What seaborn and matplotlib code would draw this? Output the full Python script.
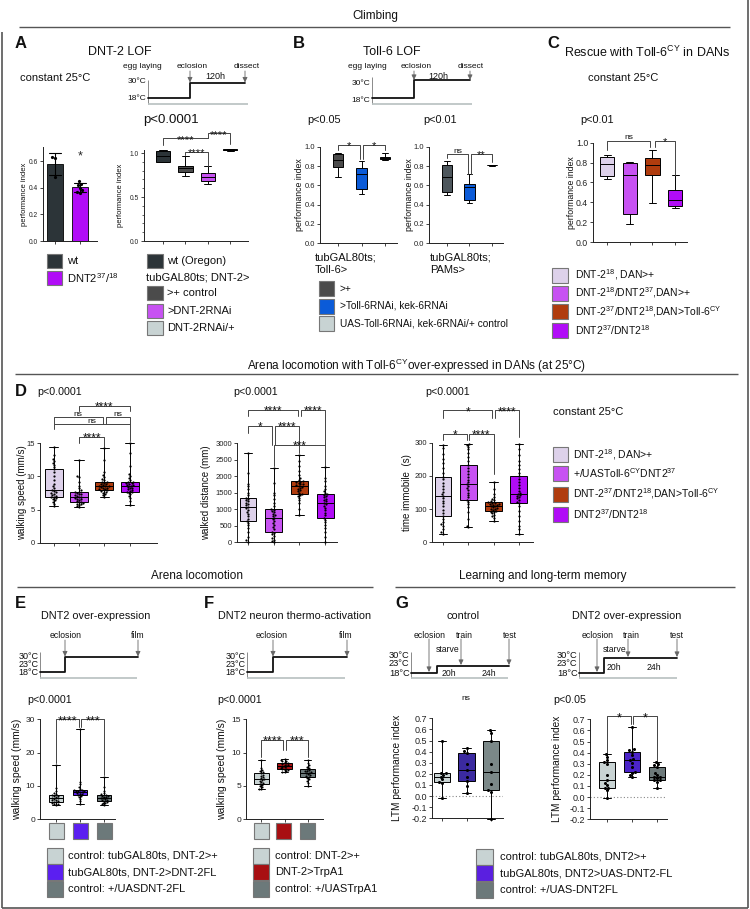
import numpy as np
import pandas as pd
import matplotlib
matplotlib.use("Agg")
import matplotlib.pyplot as plt
from matplotlib.patches import Rectangle
from matplotlib.ticker import MultipleLocator
import seaborn as sns

# ======================= DATA =======================
# A - DNT-2 LOF (bar chart, constant 25C)
A_bar_labels = ["wt", "DNT2 37/18"]
A_bar_wt = [0.63, 0.62, 0.48]
A_bar_dnt2 = [0.45, 0.43, 0.42, 0.40, 0.38, 0.36, 0.37]
# A - DNT-2 LOF (box chart)
A_box_labels = ["wt (Oregon)", ">+ control", ">DNT-2RNAi", "DNT-2RNAi/+"]
A_box_wt = [0.90, 0.90, 0.97, 1.02, 1.04]
A_box_ctrl = [0.74, 0.79, 0.825, 0.855, 0.965]
A_box_rnai = [0.65, 0.685, 0.73, 0.77, 0.85]
A_box_uas = [1.025, 1.03, 1.04, 1.045, 1.05]
# B - Toll-6 LOF
B_labels = [">+", ">Toll-6RNAi, kek-6RNAi", "UAS-Toll-6RNAi, kek-6RNAi/+ control"]
B_toll_ctrl = [0.69, 0.79, 0.86, 0.92, 0.93]
B_toll_rnai = [0.51, 0.56, 0.715, 0.775, 0.855]
B_toll_uas = [0.865, 0.875, 0.885, 0.895, 0.935]
B_pam_ctrl = [0.50, 0.535, 0.69, 0.81, 0.85]
B_pam_rnai = [0.415, 0.45, 0.585, 0.61, 0.715]
B_pam_uas = [0.805, 0.807, 0.81, 0.813, 0.815]
# C - Rescue with Toll-6CY in DANs
C_labels = ["DNT-2 18, DAN>+", "DNT-2 18/DNT2 37,DAN>+", "DNT-2 37/DNT2 18,DAN>Toll-6CY", "DNT2 37/DNT2 18"]
C_g1 = [0.63, 0.668, 0.79, 0.853, 0.876]
C_g2 = [0.18, 0.28, 0.67, 0.80, 0.81]
C_g3 = [0.39, 0.675, 0.78, 0.85, 0.93]
C_g4 = [0.345, 0.365, 0.42, 0.52, 0.67]
# D - Arena locomotion with Toll-6CY in DANs
D_labels = ["DNT-2 18, DAN>+", "+/UASToll-6CY DNT2 37", "DNT-2 37/DNT2 18,DAN>Toll-6CY", "DNT2 37/DNT2 18"]
D_speed_1 = [5.5, 5.9, 6.2, 6.4, 6.6, 6.7, 6.85, 6.95, 7.1, 7.2, 7.35, 7.5, 7.6, 7.8, 7.95, 8.2, 8.5, 8.9, 9.4, 10.0, 10.6, 11.05, 11.4, 11.8, 12.1, 12.4, 12.7, 13.2, 14.5]
D_speed_2 = [5.35, 5.5, 5.7, 5.8, 5.9, 6.0, 6.1, 6.2, 6.3, 6.45, 6.55, 6.65, 6.75, 6.85, 6.95, 7.05, 7.15, 7.3, 7.4, 7.5, 7.6, 7.7, 7.9, 8.2, 8.6, 9.2, 9.9, 10.1, 12.5]
D_speed_3 = [6.95, 7.2, 7.4, 7.55, 7.7, 7.8, 7.9, 7.95, 8.05, 8.15, 8.25, 8.3, 8.4, 8.5, 8.55, 8.6, 8.7, 8.8, 8.9, 9.0, 9.1, 9.2, 9.4, 9.6, 9.9, 10.2, 10.6, 12.5, 14.3]
D_speed_4 = [5.7, 6.3, 6.8, 7.1, 7.3, 7.5, 7.6, 7.7, 7.85, 7.95, 8.05, 8.2, 8.3, 8.45, 8.55, 8.65, 8.75, 8.85, 8.95, 9.05, 9.15, 9.2, 9.5, 9.8, 10.1, 10.4, 11.5, 13.5, 15.0]
D_dist_1 = [20, 60, 150, 300, 430, 520, 590, 645, 720, 800, 870, 930, 990, 1040, 1080, 1120, 1160, 1200, 1240, 1280, 1320, 1350, 1420, 1500, 1600, 1700, 1780, 2100, 2700]
D_dist_2 = [0, 30, 80, 130, 190, 240, 280, 320, 390, 450, 520, 580, 640, 700, 745, 790, 830, 870, 920, 960, 990, 1010, 1100, 1200, 1320, 1420, 1500, 1800, 2260]
D_dist_3 = [825, 1000, 1180, 1280, 1350, 1400, 1430, 1455, 1500, 1550, 1590, 1630, 1660, 1690, 1715, 1740, 1760, 1780, 1800, 1820, 1840, 1860, 1900, 1960, 2050, 2150, 2300, 2450, 2645]
D_dist_4 = [0, 150, 300, 420, 530, 620, 690, 745, 820, 900, 970, 1040, 1100, 1150, 1200, 1240, 1280, 1320, 1360, 1400, 1430, 1455, 1500, 1560, 1620, 1700, 1850, 1950, 2270]
D_immo_1 = [25, 30, 40, 50, 55, 62, 70, 79, 88, 98, 108, 118, 125, 132, 139, 145, 152, 160, 170, 180, 190, 197, 210, 225, 240, 250, 265, 285, 292]
D_immo_2 = [45, 50, 70, 90, 105, 115, 122, 127, 135, 142, 150, 157, 163, 170, 175, 181, 188, 196, 205, 215, 224, 232, 245, 258, 270, 280, 288, 294, 297]
D_immo_3 = [65, 72, 78, 83, 87, 90, 92, 94, 96, 99, 101, 103, 105, 108, 110, 112, 113, 115, 116, 118, 119, 120, 123, 127, 131, 136, 145, 160, 182]
D_immo_4 = [25, 40, 50, 65, 80, 95, 108, 117, 122, 127, 132, 136, 139, 142, 145, 150, 156, 163, 172, 182, 192, 200, 210, 220, 232, 245, 262, 280, 297]
# E - DNT2 over-expression, walking speed
E_labels = ["control: tubGAL80ts, DNT-2>+", "tubGAL80ts, DNT-2>DNT-2FL", "control: +/UASDNT-2FL"]
E_1 = [4.3, 4.5, 4.7, 4.9, 5.1, 5.3, 5.5, 5.7, 5.9, 6.1, 6.3, 6.5, 6.7, 6.9, 7.1, 7.3, 7.6, 8.0, 8.6, 9.5, 16.3]
E_2 = [4.5, 5.5, 6.2, 6.7, 7.0, 7.3, 7.5, 7.7, 7.9, 8.1, 8.3, 8.4, 8.5, 8.6, 8.7, 8.8, 9.2, 9.8, 10.5, 11.3, 27.1]
E_3 = [4.3, 4.5, 4.8, 5.0, 5.3, 5.5, 5.7, 5.9, 6.1, 6.3, 6.5, 6.6, 6.8, 6.9, 7.1, 7.3, 7.5, 7.8, 8.5, 9.7, 12.8]
# F - DNT2 neuron thermo-activation
F_labels = ["control: DNT-2>+", "DNT-2>TrpA1", "control: +/UASTrpA1"]
F_1 = [4.5, 4.6, 4.8, 5.0, 5.2, 5.3, 5.45, 5.6, 5.75, 5.9, 6.0, 6.15, 6.3, 6.5, 6.7, 6.9, 7.05, 7.2, 7.4, 7.7, 8.9]
F_2 = [7.05, 7.15, 7.25, 7.35, 7.45, 7.5, 7.6, 7.7, 7.8, 7.9, 8.0, 8.1, 8.2, 8.3, 8.4, 8.5, 8.6, 8.7, 8.8, 8.9, 9.05]
F_3 = [5.0, 5.5, 5.8, 6.0, 6.2, 6.4, 6.5, 6.6, 6.75, 6.9, 7.0, 7.1, 7.2, 7.3, 7.45, 7.6, 7.75, 7.9, 8.1, 8.4, 8.9]
# G - LTM
G_labels = ["control: tubGAL80ts, DNT2>+", "tubGAL80ts, DNT2>UAS-DNT2-FL", "control: +/UAS-DNT2FL"]
G_ctrl_1 = [-0.015, 0.12, 0.125, 0.15, 0.175, 0.19, 0.21, 0.21, 0.495]
G_ctrl_2 = [0.03, 0.09, 0.138, 0.17, 0.235, 0.29, 0.39, 0.41, 0.435]
G_ctrl_3 = [-0.207, 0.04, 0.054, 0.11, 0.213, 0.29, 0.495, 0.57, 0.595]
G_oe_1 = [-0.005, 0.06, 0.08, 0.085, 0.11, 0.13, 0.15, 0.2, 0.3, 0.315, 0.33, 0.36, 0.385]
G_oe_2 = [0.18, 0.2, 0.22, 0.225, 0.27, 0.31, 0.33, 0.34, 0.38, 0.41, 0.42, 0.43, 0.635]
G_oe_3 = [0.085, 0.14, 0.15, 0.155, 0.17, 0.18, 0.185, 0.2, 0.22, 0.275, 0.29, 0.3, 0.315]

# colours
C_DARK = "#2c3438"; C_GRAY = "#4b4b4b"; C_PINK = "#c752f2"; C_LIGHT = "#c8d3d3"
C_BLUE = "#0b5bd8"; C_LAV = "#ddd1ea"; C_RUST = "#b03c0e"; C_VIOL = "#b10cf7"
C_EVIO = "#5b1ff0"; C_TEAL = "#6c797a"; C_RED = "#a80f12"
C_G1IND = "#3b2aa0"; C_G2IND = "#4b24c9"; C_GLEG = "#5a1fe0"; C_G1GR = "#7b8888"

# ======================= STYLE =======================
sns.set_theme(style="ticks")
plt.rcParams["font.family"] = ["Liberation Sans", "DejaVu Sans"]
plt.rcParams["mathtext.fontset"] = "custom"
plt.rcParams["mathtext.rm"] = "Liberation Sans"
plt.rcParams["mathtext.it"] = "Liberation Sans:italic"
plt.rcParams["mathtext.bf"] = "Liberation Sans:bold"
plt.rcParams["axes.unicode_minus"] = False
plt.rcParams["axes.linewidth"] = 0.7

W, H = 750, 909
fig = plt.figure(figsize=(7.5, 9.09), dpi=100)
fig.patch.set_facecolor("white")
ov = fig.add_axes([0, 0, 1, 1])
ov.set_xlim(0, W); ov.set_ylim(H, 0); ov.axis("off")


def pax(x0, x1, ytop, ybot):
    ax = fig.add_axes([x0 / W, 1 - ybot / H, (x1 - x0) / W, (ybot - ytop) / H])
    ax.patch.set_alpha(0)
    return ax


def T(x, y, s, fs, ha="left", va="center", **kw):
    ov.text(x, y, s, fontsize=fs, ha=ha, va=va, color="#111", **kw)


def L(xs, ys, c="#333", lw=0.8, **kw):
    ov.plot(xs, ys, color=c, lw=lw, solid_capstyle="butt", **kw)


def make_df(labels, series):
    g, v = [], []
    for lab, s in zip(labels, series):
        g += [lab] * len(s)
        v += list(s)
    return pd.DataFrame({"group": g, "value": v})


def style_ax(ax, n, xlim, ylim, yticks, ytl, fs):
    ax.set_xlim(*xlim); ax.set_ylim(*ylim)
    ax.set_yticks(yticks); ax.set_yticklabels(ytl)
    ax.set_xticks(range(n)); ax.set_xticklabels([])
    ax.set_xlabel(""); ax.set_ylabel("")
    ax.spines["top"].set_visible(False); ax.spines["right"].set_visible(False)
    for s in ["left", "bottom"]:
        ax.spines[s].set_linewidth(0.7); ax.spines[s].set_color("#222")
    ax.tick_params(axis="both", labelsize=fs, length=2.5, width=0.6, pad=1,
                   colors="#222")
    ax.grid(False)
    for a in list(ax.patches) + list(ax.lines) + list(ax.collections):
        a.set_clip_on(False)


def box_panel(rect, labels, series, colors, xlim, ylim, yticks, ytl, width, fs,
              points=False, psize=1.6):
    ax = pax(*rect)
    df = make_df(labels, series)
    sns.boxplot(data=df, x="group", y="value", hue="group", order=labels,
                hue_order=labels, palette=colors, width=width, whis=(0, 100),
                saturation=1, linecolor="black", linewidth=0.7, fliersize=0,
                legend=False, ax=ax)
    if points:
        sns.swarmplot(data=df, x="group", y="value", order=labels,
                      color="black", size=psize, ax=ax, warn_thresh=1)
    style_ax(ax, len(labels), xlim, ylim, yticks, ytl, fs)
    return ax


def bracket(ax, x1, x2, y, d1, d2, txt, fs=8.5, c="#444"):
    ax.plot([x1, x1, x2, x2], [d1, y, y, d2], color=c, lw=0.7, clip_on=False)
    off = -2.7 * fs / 7 if "*" in txt else 1.0
    ax.annotate(txt, xy=((x1 + x2) / 2, y), xytext=(0, off),
                textcoords="offset points", ha="center", va="baseline",
                fontsize=fs if "*" in txt else 6, color="#111",
                annotation_clip=False)


def swatch(x, y, w, h, col):
    ov.add_patch(Rectangle((x, y), w, h, facecolor=col, edgecolor="#777", lw=0.8))


def arrow(x, y0, y1):
    ov.annotate("", xy=(x, y1), xytext=(x, y0),
                arrowprops=dict(arrowstyle="-|>,head_length=0.25,head_width=0.12",
                                color="#666", lw=0.6, shrinkA=0, shrinkB=0))


def timeline(axx, ytop, ybase, base_end, step, temps, tfs=6):
    L([axx, axx], [ytop, ybase], c="#777", lw=0.6)
    L([axx, base_end], [ybase, ybase], c="#b7c0c0", lw=1.2)
    ov.plot([p[0] for p in step], [p[1] for p in step], color="#111", lw=1.3)
    for s, y in temps:
        T(axx - 1.5, y, s, tfs, ha="right")


# ======================= FRAME & HEADERS =======================
L([2, 2], [32, 907.5], c="#555", lw=1.2)
L([2, 748], [907.5, 907.5], c="#555", lw=1.2)
L([748, 748], [0, 907.5], c="#555", lw=1.2)

T(375, 16, "Climbing", 8.5, ha="center")
L([19, 730], [26.7, 26.7], c="#555", lw=1.0)
T(417, 366, r"Arena locomotion with Toll-6$^{\mathrm{CY}}$over-expressed in DANs (at 25°C)",
  8.5, ha="center")
L([15, 738], [374, 374], c="#555", lw=1.0)
T(197, 575.7, "Arena locomotion", 8.5, ha="center")
L([17, 373], [586.7, 586.7], c="#555", lw=1.0)
T(543, 575.7, "Learning and long-term memory", 8.5, ha="center")
L([395, 735], [586.7, 586.7], c="#555", lw=1.0)

for lab, x, y in [("A", 15, 44), ("B", 293, 44), ("C", 547, 44), ("D", 15, 392),
                  ("E", 15, 604), ("F", 204, 604), ("G", 395, 604)]:
    T(x, y, lab, 12, weight="bold")

# ======================= PANEL A =======================
T(120, 52, "DNT-2 LOF", 9, ha="center")
T(20, 78, "constant 25°C", 8)
timeline(148, 80, 104.3, 248, [(148, 98.3), (190, 98.3), (190, 82.7), (245, 82.7)],
         [("30°C", 81.7), ("18°C", 98.3)])
for s, x in [("egg laying", 142), ("eclosion", 192), ("dissect", 247)]:
    T(x, 66.7, s, 6, ha="center")
T(215, 76.7, "120h", 6.5, ha="center")
arrow(190, 71, 82.5); arrow(245, 71, 82.5)
T(143, 120, "p<0.0001", 9.5)

# bar chart
axA1 = pax(43, 97, 147, 241)
dfA = make_df(A_bar_labels, [A_bar_wt, A_bar_dnt2])
sns.barplot(data=dfA, x="group", y="value", hue="group", order=A_bar_labels,
            hue_order=A_bar_labels, palette=[C_DARK, C_VIOL], errorbar="sd",
            capsize=0.45, err_kws={"color": "black", "linewidth": 0.8},
            edgecolor="black", linewidth=0.6, width=0.64, saturation=1,
            legend=False, ax=axA1)
sns.swarmplot(data=dfA, x="group", y="value", order=A_bar_labels, color="black",
              size=2.3, ax=axA1, warn_thresh=1)
style_ax(axA1, 2, (-0.48, 1.68), (0, 0.705), [0, 0.2, 0.4, 0.6],
         ["0.0", "0.2", "0.4", "0.6"], 4.8)
axA1.annotate("*", xy=(1, 0.61), xytext=(0, 0), textcoords="offset points",
              ha="center", va="baseline", fontsize=9)
T(24, 194, "performance index", 5.5, ha="center", rotation=90)

# box chart
axA2 = box_panel((144, 248, 150, 241), A_box_labels,
                 [A_box_wt, A_box_ctrl, A_box_rnai, A_box_uas],
                 [C_DARK, C_GRAY, C_PINK, C_LIGHT], (-0.85, 3.8), (0, 1.035),
                 [0, 0.5, 1.0], ["0.0", "0.5", "1.0"], 0.64, 4.8)
axA2.yaxis.set_minor_locator(MultipleLocator(0.1))
axA2.tick_params(axis="y", which="minor", length=1.5, width=0.5)
bracket(axA2, 2, 3, 1.224, 1.167, 1.10, "****", fs=8)
bracket(axA2, 0, 2, 1.167, 1.09, 1.167, "****", fs=8)
bracket(axA2, 1, 2, 1.015, 0.98, 0.85, "****", fs=8)
T(121, 195, "performance index", 5.5, ha="center", rotation=90)

# legends A
swatch(47, 254, 15, 14, C_DARK); T(67, 261, "wt", 8)
swatch(47, 271, 15, 14, C_VIOL); T(67, 278, r"DNT2$^{37}$/$^{18}$", 8)
swatch(147, 254, 16, 14, C_DARK); T(167, 261, "wt (Oregon)", 8)
T(146, 278, "tubGAL80ts; DNT-2>", 8)
for i, (lab, col) in enumerate(zip(A_box_labels[1:], [C_GRAY, C_PINK, C_LIGHT])):
    swatch(147, 286 + 17.5 * i, 16, 14, col)
    T(167, 293 + 17.5 * i, lab, 8)

# ======================= PANEL B =======================
T(392, 52, "Toll-6 LOF", 9, ha="center")
timeline(372, 77, 104, 472, [(372, 98), (414, 98), (414, 80), (470, 80)],
         [("30°C", 83.3), ("18°C", 100.5)])
for s, x in [("egg laying", 367), ("eclosion", 416), ("dissect", 471)]:
    T(x, 66, s, 6, ha="center")
T(438.5, 76.5, "120h", 6.5, ha="center")
arrow(414, 71, 80); arrow(470, 71, 80)
T(307, 120, "p<0.05", 7.8)
T(423, 120, "p<0.01", 7.8)
bt = [0, 0.2, 0.4, 0.6, 0.8, 1.0]
btl = ["0.0", "0.2", "0.4", "0.6", "0.8", "1.0"]
axB1 = box_panel((320, 397, 146.7, 243.3), B_labels,
                 [B_toll_ctrl, B_toll_rnai, B_toll_uas], [C_GRAY, C_BLUE, C_LIGHT],
                 (-0.77, 2.51), (0, 1.0), bt, btl, 0.46, 5.5)
bracket(axB1, 0, 0.95, 1.017, 0.97, 0.87, "*", fs=8)
bracket(axB1, 1.05, 2, 1.017, 0.87, 0.965, "*", fs=8)
axB2 = box_panel((429, 503, 146.7, 243.3), B_labels,
                 [B_pam_ctrl, B_pam_rnai, B_pam_uas], ["#4d565c", C_BLUE, C_LIGHT],
                 (-0.8, 2.49), (0, 1.0), bt, btl, 0.46, 5.5)
bracket(axB2, 0, 0.95, 0.923, 0.88, 0.72, "ns", fs=8)
bracket(axB2, 1.05, 2, 0.923, 0.72, 0.845, "**", fs=8)
T(299, 195, "performance index", 6.3, ha="center", rotation=90)
T(409, 195, "performance index", 6.3, ha="center", rotation=90)
T(315, 257, "tubGAL80ts;", 8); T(315, 270, "Toll-6>", 8)
T(430, 257, "tubGAL80ts;", 8); T(430, 270, "PAMs>", 8)
for i, (lab, col) in enumerate(zip(B_labels, [C_GRAY, C_BLUE, C_LIGHT])):
    swatch(319, 281 + 17.5 * i, 15, 15, col)
    T(340, 288.5 + 17.5 * i, lab, 7.3)

# ======================= PANEL C =======================
T(647, 52, r"Rescue with Toll-6$^{\mathrm{CY}}$ in DANs", 9, ha="center")
T(623, 78, "constant 25°C", 8, ha="center")
T(580, 120, "p<0.01", 7.8)
axC = box_panel((593, 687, 142.7, 242), C_labels, [C_g1, C_g2, C_g3, C_g4],
                [C_LAV, C_PINK, C_RUST, C_VIOL], (-0.62, 3.52), (0, 1.0), bt, btl,
                0.62, 6.3)
bracket(axC, 0, 1.9, 1.02, 0.93, 0.96, "ns", fs=8)
bracket(axC, 2.1, 3, 1.02, 0.96, 0.675, "*", fs=8)
T(571, 192.5, "performance index", 6.3, ha="center", rotation=90)
C_leg = [r"DNT-2$^{18}$, DAN>+", r"DNT-2$^{18}$/DNT2$^{37}$,DAN>+",
         r"DNT-2$^{37}$/DNT2$^{18}$,DAN>Toll-6$^{\mathrm{CY}}$", r"DNT2$^{37}$/DNT2$^{18}$"]
for i, (lab, col, y) in enumerate(zip(C_leg, [C_LAV, C_PINK, C_RUST, C_VIOL],
                                      [275, 293, 311.5, 330])):
    swatch(552, y - 7.5, 16, 15, col)
    T(575, y, lab, 7.5)

# ======================= PANEL D =======================
D_cols = [C_LAV, C_PINK, C_RUST, C_VIOL]
T(37, 392, "p<0.0001", 7.7); T(233, 392, "p<0.0001", 7.7); T(425, 392, "p<0.0001", 7.7)
axD1 = box_panel((40, 157, 443.3, 542.7), D_labels,
                 [D_speed_1, D_speed_2, D_speed_3, D_speed_4], D_cols,
                 (-0.54, 4.08), (0, 15), [0, 5, 10, 15], ["0", "5", "10", "15"],
                 0.72, 5.5, points=True, psize=1.6)
bracket(axD1, 1, 3, 20.6, 19.9, 19.9, "****")
bracket(axD1, 0, 1.93, 18.9, 17.85, 17.85, "ns")
bracket(axD1, 2.07, 3, 18.9, 17.85, 17.85, "ns")
bracket(axD1, 0, 3, 17.85, 17.2, 15.3, "ns")
bracket(axD1, 1, 2, 15.9, 15.1, 14.5, "****")
T(22.5, 493, "walking speed (mm/s)", 7, ha="center", rotation=90)

axD2 = box_panel((237, 337, 443.3, 542.3), D_labels,
                 [D_dist_1, D_dist_2, D_dist_3, D_dist_4], D_cols,
                 (-0.43, 3.46), (0, 3000), [0, 500, 1000, 1500, 2000, 2500, 3000],
                 ["0", "500", "1000", "1500", "2000", "2500", "3000"],
                 0.65, 5.5, points=True, psize=1.6)
bracket(axD2, 0, 1.95, 4009, 3836, 3836, "****")
bracket(axD2, 2.05, 3, 4009, 3836, 2948, "****")
bracket(axD2, 0, 0.95, 3524, 3300, 2950, "*")
bracket(axD2, 1.05, 2, 3524, 2950, 2700, "****")
bracket(axD2, 1, 3, 2948, 2300, 2300, "***")
T(206, 493, "walked distance (mm)", 7, ha="center", rotation=90)

axD3 = box_panel((432, 533, 442.7, 542.3), D_labels,
                 [D_immo_1, D_immo_2, D_immo_3, D_immo_4], D_cols,
                 (-0.43, 3.56), (0, 300), [0, 100, 200, 300],
                 ["0", "100", "200", "300"], 0.66, 5.5, points=True, psize=1.6)
bracket(axD3, 0, 1.95, 397, 375, 375, "*")
bracket(axD3, 2.05, 3, 397, 375, 317, "****")
bracket(axD3, 0, 0.95, 327, 307, 307, "*")
bracket(axD3, 1.05, 2, 327, 307, 207, "****")
T(407, 493, "time immobile  (s)", 7, ha="center", rotation=90)

T(553, 411.7, "constant 25°C", 8)
D_leg = [r"DNT-2$^{18}$, DAN>+", r"+/UASToll-6$^{\mathrm{CY}}$DNT2$^{37}$",
         r"DNT-2$^{37}$/DNT2$^{18}$,DAN>Toll-6$^{\mathrm{CY}}$", r"DNT2$^{37}$/DNT2$^{18}$"]
for lab, col, y in zip(D_leg, D_cols, [454.5, 473, 494, 514.5]):
    swatch(553, y - 7.5, 15, 15, col)
    T(573, y, lab, 7.5)

# ======================= PANEL E =======================
E_cols = [C_LIGHT, C_EVIO, C_TEAL]
T(96, 616, "DNT2 over-expression", 7.8, ha="center")
timeline(40, 652, 678.3, 137, [(40, 672), (65, 672), (65, 656.7), (138, 656.7)],
         [("30°C", 656.7), ("23°C", 664.3), ("18°C", 672.7)], tfs=6.5)
T(66, 635, "eclosion", 6.2, ha="center"); T(137.5, 635, "film", 6.2, ha="center")
arrow(65, 640, 656.5); arrow(138, 640, 656.5)
T(27, 700, "p<0.0001", 7.7)
axE = box_panel((40, 115, 719.3, 819.3), E_labels, [E_1, E_2, E_3], E_cols,
                (-0.67, 2.46), (0, 30), [0, 10, 20, 30], ["0", "10", "20", "30"],
                0.62, 6, points=True, psize=1.5)
bracket(axE, 0, 0.95, 30.0, 16.8, 27.8, "****", fs=9)
bracket(axE, 1.05, 2, 30.0, 27.8, 13.3, "***", fs=9)
T(17, 769, "walking speed (mm/s)", 7.5, ha="center", rotation=90)
for xc, col in zip([56, 80, 104], E_cols):
    swatch(xc - 7.5, 823, 15, 16, col)
for i, (lab, col) in enumerate(zip(E_labels, E_cols)):
    swatch(47, 848 + 16.3 * i, 16, 16, col)
    T(68, 856 + 16.3 * i, lab, 8)

# ======================= PANEL F =======================
F_cols = [C_LIGHT, C_RED, C_TEAL]
T(295, 616, "DNT2 neuron thermo-activation", 7.8, ha="center")
timeline(247, 652, 678.3, 345, [(247, 672), (273, 672), (273, 656.7), (347, 656.7)],
         [("30°C", 656.7), ("23°C", 664.3), ("18°C", 672.7)], tfs=6.5)
T(271.5, 635, "eclosion", 6.2, ha="center"); T(346, 635, "film", 6.2, ha="center")
arrow(273, 640, 656.5); arrow(347, 640, 656.5)
T(217, 700, "p<0.0001", 7.7)
axF = box_panel((246, 323, 719.3, 819.3), F_labels, [F_1, F_2, F_3], F_cols,
                (-0.67, 2.67), (0, 15), [0, 5, 10, 15], ["0", "5", "10", "15"],
                0.62, 6, points=True, psize=1.5)
bracket(axF, 0, 0.95, 11.9, 9.4, 10.4, "****", fs=9)
bracket(axF, 1.05, 2, 11.9, 10.4, 9.4, "***", fs=9)
T(222, 769, "walking speed (mm/s)", 7.5, ha="center", rotation=90)
for xc, col in zip([261.5, 283.5, 307.5], F_cols):
    swatch(xc - 7.5, 823, 15, 16, col)
for i, (lab, col) in enumerate(zip(F_labels, F_cols)):
    swatch(253, 848 + 16.3 * i, 16, 16, col)
    T(275, 856 + 16.3 * i, lab, 8)

# ======================= PANEL G =======================
T(463, 616, "control", 7.8, ha="center")
T(627, 616, "DNT2 over-expression", 7.8, ha="center")
temps = [("30°C", 656), ("23°C", 664), ("18°C", 673)]
timeline(411, 652, 678.3, 508, [(411, 673), (437, 673), (437, 666), (509, 666)],
         temps, tfs=6.7)
for s, x in [("eclosion", 430), ("train", 464), ("test", 510)]:
    T(x, 635, s, 6.2, ha="center")
T(448, 650, "starve", 6.2, ha="center")
T(448.5, 673, "20h", 6.2, ha="center"); T(488.5, 673, "24h", 6.2, ha="center")
arrow(429, 639, 672); arrow(461, 639, 665); arrow(509, 639, 665)

timeline(579, 652, 678.3, 677, [(579, 673), (604, 673), (604, 658), (677, 658)],
         temps, tfs=6.7)
for s, x in [("eclosion", 597.5), ("train", 631.5), ("test", 677)]:
    T(x, 635, s, 6.2, ha="center")
T(615, 650, "starve", 6.2, ha="center")
T(614, 667, "20h", 6.2, ha="center"); T(654, 667, "24h", 6.2, ha="center")
arrow(597, 639, 672); arrow(628, 639, 657); arrow(677, 639, 657)

gt = [-0.2, -0.1, 0, 0.1, 0.2, 0.3, 0.4, 0.5, 0.6, 0.7]
gtl = ["-0.2", "-0.1", "0.0", "0.1", "0.2", "0.3", "0.4", "0.5", "0.6", "0.7"]
T(466, 699, "ns", 6, ha="center")
axG1 = box_panel((432, 503, 718.3, 818.3), G_labels, [G_ctrl_1, G_ctrl_2, G_ctrl_3],
                 [C_LIGHT, C_G1IND, C_G1GR], (-0.41, 2.49), (-0.2, 0.7), gt, gtl,
                 0.68, 6.5, points=True, psize=2.2)
axG1.axhline(0, color="#888", ls=(0, (1, 2)), lw=0.8, zorder=0)
T(397, 768, "LTM performance index", 7.3, ha="center", rotation=90)

T(553, 700, "p<0.05", 7.7)
axG2 = box_panel((590, 667, 719.3, 819.3), G_labels, [G_oe_1, G_oe_2, G_oe_3],
                 [C_LIGHT, C_G2IND, C_TEAL], (-0.68, 2.4), (-0.2, 0.7), gt, gtl,
                 0.64, 6.5, points=True, psize=2.2)
axG2.axhline(0, color="#888", ls=(0, (1, 2)), lw=0.8, zorder=0)
bracket(axG2, 0, 0.95, 0.727, 0.39, 0.66, "*", fs=9)
bracket(axG2, 1.05, 2, 0.727, 0.66, 0.315, "*", fs=9)
T(557, 769, "LTM performance index", 7.3, ha="center", rotation=90)

for i, (lab, col) in enumerate(zip(G_labels, [C_LIGHT, C_GLEG, C_TEAL])):
    swatch(476, 848.5 + 16.8 * i, 17, 16, col)
    T(500, 856.7 + 16.8 * i, lab, 8)

fig.savefig("out.png", dpi=100, facecolor="white")
